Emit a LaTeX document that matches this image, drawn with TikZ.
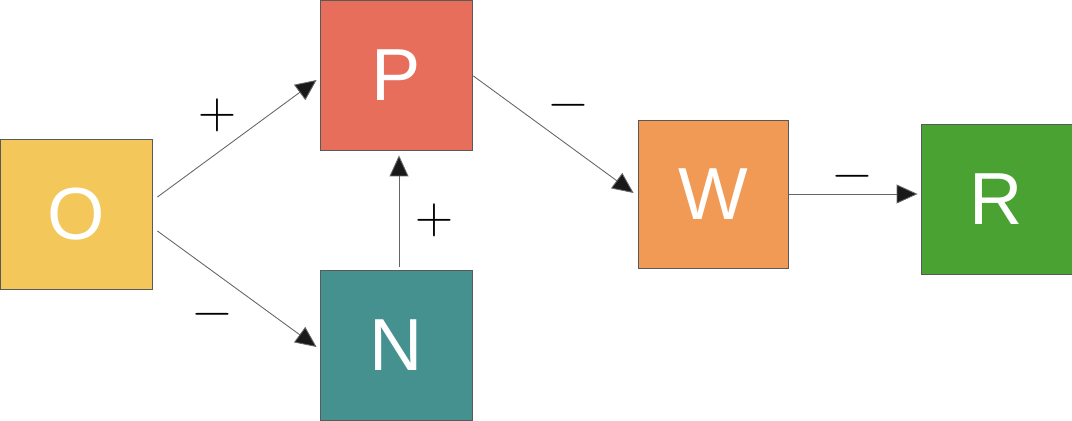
\documentclass[tikz,border=0pt]{standalone}
\usepackage{fontspec}
\setmainfont{Liberation Sans}
\newfontfamily\signfont{Latin Modern Roman}
\usepackage{xcolor}
\usepackage{tikz}
\usetikzlibrary{arrows.meta,calc}

\definecolor{oyellow}{HTML}{F4C75A}
\definecolor{pred}{HTML}{E76E5B}
\definecolor{nteal}{HTML}{45918F}
\definecolor{worange}{HTML}{F09A55}
\definecolor{rgreen}{HTML}{4AA232}

\begin{document}
\begin{tikzpicture}[x=0.02cm,y=-0.02cm,
    box/.style={draw=black!65,line width=0.5pt,minimum width=3.04cm,minimum height=3cm,
        inner sep=0pt,text=white,font=\fontsize{42}{42}\selectfont},
    link/.style={draw=black!60,line width=0.5pt,-{Triangle[length=0.42cm,width=0.38cm,fill=black!90]}},
    sign/.style={font=\signfont\fontsize{30}{30}\selectfont}]
    \useasboundingbox (0,0) rectangle (1072,420);

    \node[box,fill=oyellow] (O) at (76,214) {O};
    \node[box,fill=pred] (P) at (396,75) {P};
    \node[box,fill=nteal] (N) at (396,345) {N};
    \node[box,fill=worange,minimum width=3cm,minimum height=2.96cm] (W) at (713,194) {W};
    \node[box,fill=rgreen,minimum width=3.02cm] (R) at (996.5,199) {R};

    \draw[link] ($(O.east)+(5,-17)$) -- ($(P.west)+(-3,5)$);
    \draw[link] ($(O.east)+(5,17)$) -- ($(N.west)+(-3,2)$);
    \draw[link] ($(N.north)+(3,-3)$) -- ($(P.south)+(3,5)$);
    \draw[link] ($(P.east)+(1,1)$) -- ($(W.west)+(-4,-1)$);
    \draw[link] ($(W.east)+(1,0)$) -- ($(R.west)+(-3,-5)$);

    \node[sign] (s1) at (217,115) {+};
    \node[sign] (s2) at (212,320) {−};
    \node[sign] (s3) at (434,220) {+};
    \node[sign] (s4) at (568,111) {−};
    \node[sign] (s5) at (852,182) {−};
\end{tikzpicture}
\end{document}
